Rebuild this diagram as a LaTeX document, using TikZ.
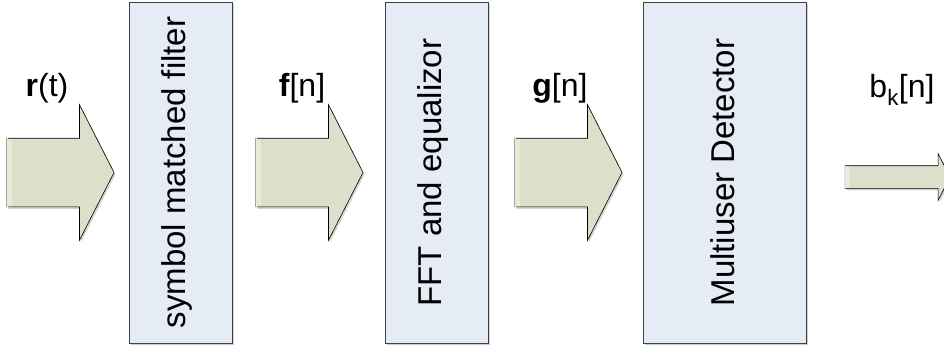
\documentclass[tikz,border=0pt]{standalone}
\usepackage{fontspec}
\setmainfont{Liberation Sans}
\usepackage{tikz}
\usetikzlibrary{shapes.arrows, positioning, shadows}
\definecolor{BlockFill}{HTML}{E6ECF6}
\definecolor{BlockLine}{HTML}{404040}
\definecolor{ArrowFill}{HTML}{DDDFCA}
\definecolor{ArrowLight}{HTML}{E7EAD6}

\begin{document}
\begin{tikzpicture}[
  x=1pt, y=-1pt,
  stage/.style={rectangle, draw=BlockLine, line width=0.8pt, fill=BlockFill,
    minimum width=#1, minimum height=341pt, inner sep=0pt, outer sep=0pt,
    drop shadow={shadow xshift=2pt, shadow yshift=-2pt, opacity=.4}},
  stagetext/.style={rotate=90, font=\fontsize{33}{36}\selectfont},
  bigarrow/.style={single arrow, draw=black, line width=0.6pt, fill=ArrowFill,
    minimum height=107pt, inner ysep=34pt, inner xsep=0pt, outer sep=0pt,
    single arrow head extend=33.5pt, single arrow tip angle=126,
    drop shadow={shadow xshift=1.5pt, shadow yshift=-2pt, opacity=.35},
    path picture={\fill[ArrowLight] (path picture bounding box.south west)
      rectangle ([xshift=5pt]path picture bounding box.north west);}},
  signal/.style={font=\fontsize{32}{34}\selectfont}
]
\useasboundingbox (0,0) rectangle (944,349);

\node[bigarrow, anchor=tip] (in) at (114,172.5) {};
\node[stage=103pt, right=15pt of in] (smf) {};
\node[stagetext] at ([xshift=-4pt]smf.center) {symbol matched filter};

\node[bigarrow, right=24pt of smf] (fn) {};
\node[stage=103pt, right=22pt of fn] (fft) {};
\node[stagetext] at ([xshift=-4pt]fft.center) {FFT and equalizor};

\node[bigarrow, right=27pt of fft] (gn) {};
\node[stage=163pt, right=21pt of gn] (mud) {};
\node[stagetext] at ([xshift=-2pt]mud.center) {Multiuser Detector};

\node[bigarrow, minimum height=105pt, inner ysep=11pt,
  single arrow head extend=12pt, right=39pt of mud, yshift=-4.5pt] (out) {};

% Signal labels
\node[signal] (rt) at (47,88) {\textbf{r}(t)};
\node[signal] (fl) at (302,88) {\textbf{f}[n]};
\node[signal] (gl) at (560,88) {\textbf{g}[n]};
\node[signal] (bl) at (902,90) {b\textsubscript{k}[n]};

% open tails
\foreach \a in {in, fn, gn, out}
  \draw[ArrowLight, line width=1pt] (\a.before tail) -- (\a.after tail);
\end{tikzpicture}
\end{document}
